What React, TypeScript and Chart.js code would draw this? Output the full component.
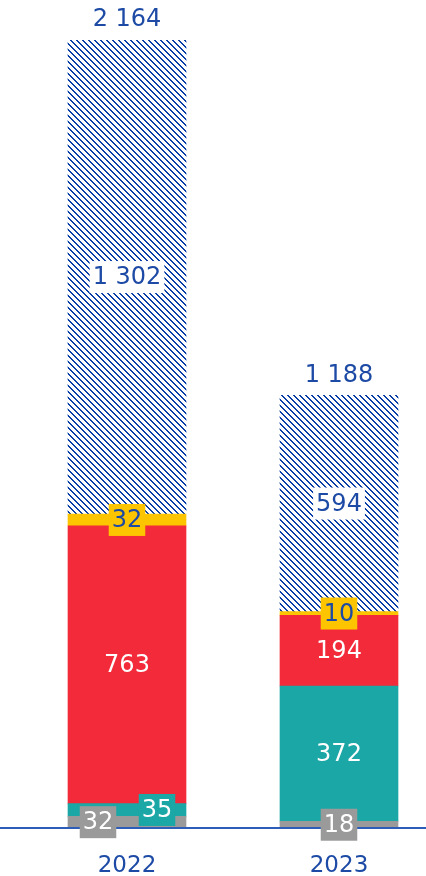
import React, { useEffect, useRef } from "react";
import { Chart, registerables } from "chart.js";

Chart.register(...registerables);

const categories = ["2022", "2023"];
const grayValues = [32, 18];
const tealValues = [35, 372];
const redValues = [763, 194];
const yellowValues = [32, 10];
const hatchValues = [1302, 594];

const BLUE_TEXT = "#1c4aa5";
const HATCH_BLUE = "#0a3fa8";
const AXIS_BLUE = "#2c5db8";
const GRAY = "#9a9a9a";
const TEAL = "#1aa7a5";
const RED = "#f22a3a";
const YELLOW = "#fdc500";
const FONT = '24px "DejaVu Sans"';

type LabelStyle = {
  color: string;
  bg: (string | null)[];
  dx: number[];
};

const labelStyles: LabelStyle[] = [
  { color: "#ffffff", bg: [GRAY, GRAY], dx: [-29, 0] },
  { color: "#ffffff", bg: [TEAL, null], dx: [30, 0] },
  { color: "#ffffff", bg: [null, null], dx: [0, 0] },
  { color: BLUE_TEXT, bg: [YELLOW, YELLOW], dx: [0, 0] },
  { color: BLUE_TEXT, bg: ["#ffffff", "#ffffff"], dx: [0, 0] },
];

const fmt = (v: number) => String(v).replace(/\B(?=(\d{3})+(?!\d))/g, " ");

const labelPlugin = {
  id: "segLabels",
  afterDatasetsDraw(chart: any) {
    const ctx = chart.ctx as CanvasRenderingContext2D;
    const yScale = chart.scales.y;
    const y0 = yScale.getPixelForValue(0);
    ctx.save();
    ctx.strokeStyle = AXIS_BLUE;
    ctx.lineWidth = 2;
    ctx.beginPath();
    ctx.moveTo(0, y0);
    ctx.lineTo(chart.width, y0);
    ctx.stroke();

    ctx.font = FONT;
    ctx.textAlign = "center";
    ctx.textBaseline = "middle";
    const nData = chart.data.labels.length;
    chart.data.datasets.forEach((ds: any, di: number) => {
      const meta = chart.getDatasetMeta(di);
      const st = labelStyles[di];
      meta.data.forEach((el: any, j: number) => {
        const v = ds.data[j];
        const text = fmt(v);
        const cx = el.x + st.dx[j];
        const cy = (el.y + el.base) / 2;
        const tw = ctx.measureText(text).width;
        const bg = st.bg[j];
        if (bg) {
          ctx.fillStyle = bg;
          ctx.fillRect(cx - tw / 2 - 3, cy - 16, tw + 6, 32);
        }
        ctx.fillStyle = st.color;
        ctx.fillText(text, cx, cy + 1);
      });
    });
    // totals
    const lastMeta = chart.getDatasetMeta(chart.data.datasets.length - 1);
    for (let j = 0; j < nData; j++) {
      let total = 0;
      chart.data.datasets.forEach((ds: any) => (total += ds.data[j]));
      const el = lastMeta.data[j];
      ctx.fillStyle = BLUE_TEXT;
      ctx.fillText(fmt(total), el.x, yScale.getPixelForValue(total) - 20);
    }
    ctx.restore();
  },
};

function makeHatch(): CanvasPattern | string {
  const n = 6;
  const c = document.createElement("canvas");
  c.width = n;
  c.height = n;
  const g = c.getContext("2d");
  if (!g) return HATCH_BLUE;
  g.fillStyle = "#ffffff";
  g.fillRect(0, 0, n, n);
  g.fillStyle = HATCH_BLUE;
  for (let i = 0; i < n; i++) {
    g.fillRect(i, i, 1, 1);
    g.fillRect((i + 1) % n, i, 1, 1);
  }
  const p = g.createPattern(c, "repeat");
  return p || HATCH_BLUE;
}

export default function App() {
  const ref = useRef<HTMLCanvasElement | null>(null);
  useEffect(() => {
    if (!ref.current) return;
    const hatch = makeHatch();
    const common = { barThickness: 118, borderWidth: 0 };
    const chart = new Chart(ref.current, {
      type: "bar",
      data: {
        labels: categories,
        datasets: [
          { data: grayValues, backgroundColor: GRAY, ...common },
          { data: tealValues, backgroundColor: TEAL, ...common },
          { data: redValues, backgroundColor: RED, ...common },
          { data: yellowValues, backgroundColor: YELLOW, ...common },
          { data: hatchValues, backgroundColor: hatch as any, ...common },
        ],
      },
      options: {
        animation: false,
        responsive: true,
        maintainAspectRatio: false,
        layout: { padding: { left: 21, right: 1, top: 40, bottom: 0 } },
        plugins: { legend: { display: false }, tooltip: { enabled: false } },
        scales: {
          x: {
            stacked: true,
            grid: { display: false },
            border: { display: false },
            ticks: {
              color: BLUE_TEXT,
              font: { family: "DejaVu Sans", size: 23 },
              padding: 16,
            },
            afterFit: (scale: any) => {
              scale.height = 48;
            },
          },
          y: {
            stacked: true,
            display: false,
            min: 0,
            max: 2164,
          },
        },
      },
      plugins: [labelPlugin],
    });
    return () => chart.destroy();
  }, []);
  return (
    <div
      style={{
        position: "absolute",
        left: 0,
        top: 0,
        width: 426,
        height: 876,
        overflow: "hidden",
        background: "#ffffff",
      }}
    >
      <div style={{ position: "relative", width: 446, height: 876 }}>
        <canvas ref={ref} />
      </div>
    </div>
  );
}
